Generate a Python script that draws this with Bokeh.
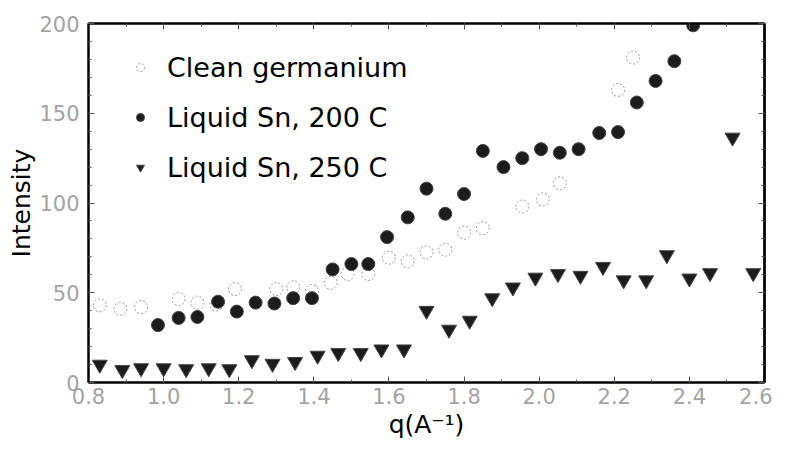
from bokeh.plotting import figure
from bokeh.models import (Range1d, LinearAxis, Legend, LegendItem, FixedTicker,
                          CustomJSTickFormatter)
from bokeh.embed import file_html
from bokeh.resources import INLINE

# ---- data ----
ge_q = [0.83, 0.885, 0.94, 1.04, 1.09, 1.14, 1.19, 1.30, 1.345, 1.395, 1.445,
        1.49, 1.545, 1.60, 1.65, 1.70, 1.75, 1.80, 1.85, 1.955, 2.01, 2.055,
        2.21, 2.25]
ge_I = [43, 41, 42, 46.5, 44.5, 43.5, 52, 52, 53, 51, 55.5,
        60.5, 60.5, 69.5, 67.5, 72.5, 74, 83.5, 86, 98, 102, 111,
        163, 181]

sn200_q = [0.985, 1.04, 1.09, 1.145, 1.195, 1.245, 1.295, 1.345, 1.395, 1.45,
           1.50, 1.545, 1.595, 1.65, 1.70, 1.75, 1.80, 1.85, 1.905, 1.955,
           2.005, 2.055, 2.105, 2.16, 2.21, 2.26, 2.31, 2.36, 2.41]
sn200_I = [32, 36, 36.5, 45, 39.5, 44.5, 44, 47, 47, 63,
           66, 66, 81, 92, 108, 94, 105, 129, 120, 125,
           130, 128, 130, 139, 139.5, 156, 168, 179, 199]

sn250_q = [0.83, 0.89, 0.94, 1.00, 1.06, 1.12, 1.175, 1.235, 1.29, 1.35,
           1.41, 1.465, 1.525, 1.58, 1.64, 1.70, 1.76, 1.815, 1.875, 1.93,
           1.99, 2.05, 2.11, 2.17, 2.225, 2.285, 2.34, 2.40, 2.455, 2.515,
           2.57]
sn250_I = [10, 7, 8, 8, 7.5, 8, 7.5, 12.5, 10.5, 11.5,
           15, 16.5, 16.5, 18.5, 18.5, 40, 29.5, 34.5, 47, 53,
           58.5, 60.5, 59.5, 64.5, 57, 57, 71, 58, 61, 136.5,
           61]

labels = ["Clean germanium", "Liquid Sn, 200 C", "Liquid Sn, 250 C"]
x_ticks = [0.8, 1.0, 1.2, 1.4, 1.6, 1.8, 2.0, 2.2, 2.4, 2.6]
y_ticks = [0, 50, 100, 150, 200]

FONT = "DejaVu Sans"
TICK_GRAY = "#a3a3a3"

p = figure(frame_width=676, frame_height=359, output_backend="svg",
           toolbar_location=None,
           x_range=Range1d(0.8, 2.6), y_range=Range1d(0, 200),
           min_border_left=88, min_border_right=8, min_border_top=23,
           min_border_bottom=62, background_fill_color="white",
           border_fill_color="white")
p.grid.visible = False
p.outline_line_color = "black"
p.outline_line_width = 2

r_ge = p.scatter(ge_q, ge_I, marker="circle", size=13, fill_color=None,
                 line_color="#9a9a9a", line_dash="2 2", line_width=1)
r_200 = p.scatter(sn200_q, sn200_I, marker="circle", size=13,
                  fill_color="#1c1c1c", line_color="#444444", line_width=1)
r_250 = p.scatter(sn250_q, sn250_I, marker="inverted_triangle", size=15,
                  fill_color="#1c1c1c", line_color="#444444", line_width=1)

def style_axis(ax, show_labels):
    ax.axis_line_color = "black"
    ax.axis_line_width = 2
    ax.major_tick_in = 6
    ax.major_tick_out = 0
    ax.minor_tick_in = 3
    ax.minor_tick_out = 0
    ax.major_tick_line_color = "#555555"
    ax.minor_tick_line_color = "#555555"
    if show_labels:
        ax.major_label_text_font = FONT
        ax.major_label_text_font_size = "21px"
        ax.major_label_text_color = TICK_GRAY
        ax.axis_label_text_font = FONT
        ax.axis_label_text_font_size = "25px"
        ax.axis_label_text_font_style = "normal"
        ax.axis_label_text_color = "black"
    else:
        ax.formatter = CustomJSTickFormatter(code="return ''")
        ax.major_label_standoff = 0
        ax.axis_label = None

xt = FixedTicker(ticks=x_ticks, minor_ticks=[0.8 + 0.1 * i for i in range(19)])
yt = FixedTicker(ticks=y_ticks, minor_ticks=list(range(0, 201, 10)))

p.xaxis.ticker = xt
p.yaxis.ticker = yt
p.xaxis.axis_label = "q(A\u207b\u00b9)"
p.yaxis.axis_label = "Intensity"
style_axis(p.xaxis[0], True)
style_axis(p.yaxis[0], True)
p.xaxis.major_label_standoff = 5
p.yaxis.major_label_standoff = 9
p.xaxis.axis_label_standoff = 3
p.yaxis.axis_label_standoff = 0
p.xaxis.major_label_overrides = {t: f"{t:.1f}" for t in x_ticks}

ax_top = LinearAxis(ticker=xt)
ax_right = LinearAxis(ticker=yt)
style_axis(ax_top, False)
style_axis(ax_right, False)
ax_right.axis_line_width = 2.5
p.add_layout(ax_top, "above")
p.add_layout(ax_right, "right")

legend = Legend(items=[LegendItem(label=labels[0], renderers=[r_ge]),
                       LegendItem(label=labels[1], renderers=[r_200]),
                       LegendItem(label=labels[2], renderers=[r_250])],
                location=(42, 190), border_line_color=None,
                background_fill_alpha=0, padding=0, margin=0, spacing=0,
                glyph_width=20, glyph_height=50, label_height=50,
                label_standoff=17, label_text_font=FONT,
                label_text_font_size="27px", label_text_color="black")
p.add_layout(legend, "center")

open("out.html", "w").write(file_html(p, INLINE))
